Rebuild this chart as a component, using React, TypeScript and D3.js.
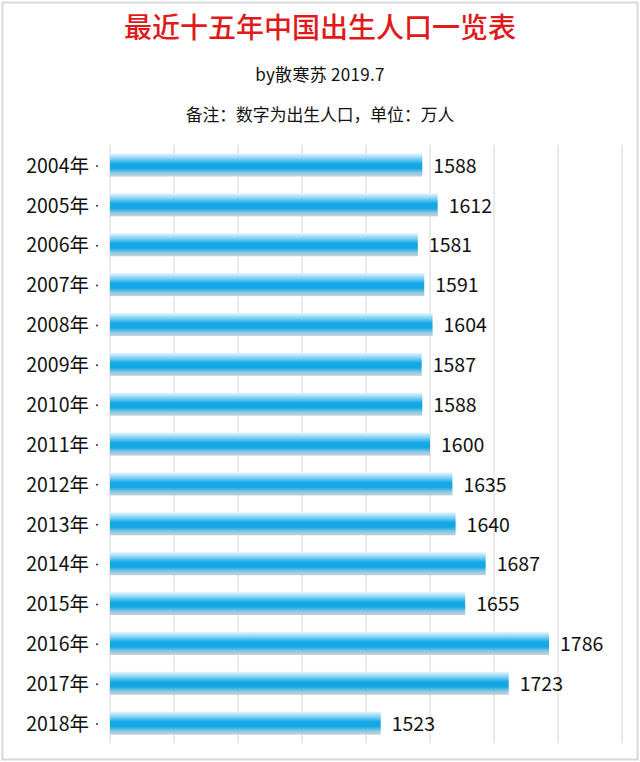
import React from "react";
import * as d3 from "d3";

const years = ["2004年", "2005年", "2006年", "2007年", "2008年", "2009年", "2010年", "2011年", "2012年", "2013年", "2014年", "2015年", "2016年", "2017年", "2018年"];
const births = [1588, 1612, 1581, 1591, 1604, 1587, 1588, 1600, 1635, 1640, 1687, 1655, 1786, 1723, 1523];
const xTicks = [1100, 1200, 1300, 1400, 1500, 1600, 1700, 1800, 1900];
const title = "最近十五年中国出生人口一览表";
const subtitle = "by散寒苏 2019.7";
const note = "备注：数字为出生人口，单位：万人";

const W = 640, H = 762;
const plot = { left: 110, right: 622, top: 145, bottom: 743 };

export default function App() {
  const x = d3.scaleLinear().domain([1100, 1900]).range([plot.left, plot.right]);
  const y = d3.scaleBand<string>().domain(years).range([plot.top, plot.bottom]).paddingInner(0.42).paddingOuter(0.21);
  const font = "'Noto Sans CJK SC', 'Noto Sans', sans-serif";
  const bh = y.bandwidth();
  return (
    <svg width={W} height={H} style={{ position: "absolute", left: 0, top: 0, background: "#fff" }} fontFamily={font}>
      <defs>
        <linearGradient id="barGrad" x1="0" y1="0" x2="0" y2="1">
          <stop offset="0" stopColor="#eaf7fd" />
          <stop offset="0.2" stopColor="#8fd6f5" />
          <stop offset="0.45" stopColor="#12a8e8" />
          <stop offset="0.65" stopColor="#16a6e2" />
          <stop offset="0.85" stopColor="#8ccbe6" />
          <stop offset="1" stopColor="#c9cfd2" />
        </linearGradient>
      </defs>
      <rect x={2.5} y={2.5} width={W - 5} height={H - 5} fill="#fff" stroke="#d9d9d9" strokeWidth={2} />
      <text x={320} y={38} textAnchor="middle" fontSize={28} fill="#e01a1a" fontWeight={500}>{title}</text>
      <text x={320} y={81} textAnchor="middle" fontSize={17} fill="#111" letterSpacing={0.3}>{subtitle}</text>
      <text x={320} y={121} textAnchor="middle" fontSize={16.8} fill="#111">{note}</text>
      {xTicks.map((t) => (
        <line key={t} x1={x(t)} x2={x(t)} y1={plot.top} y2={plot.bottom} stroke="#e3e3e3" strokeWidth={1.5} />
      ))}
      {years.map((yr, i) => {
        const yy = y(yr)!;
        const cy = yy + bh / 2;
        return (
          <g key={yr}>
            <rect x={x(1100)} y={yy} width={x(births[i]) - x(1100)} height={bh} fill="url(#barGrad)" />
            <text x={89} y={cy + 1} dy="0.35em" textAnchor="end" fontSize={19.5} fill="#111">{yr}</text>
            <circle cx={97} cy={cy + 1} r={1} fill="#333" />
            <text x={x(births[i]) + 11} y={cy + 1} dy="0.35em" fontSize={19.5} fill="#111">{births[i]}</text>
          </g>
        );
      })}
    </svg>
  );
}
